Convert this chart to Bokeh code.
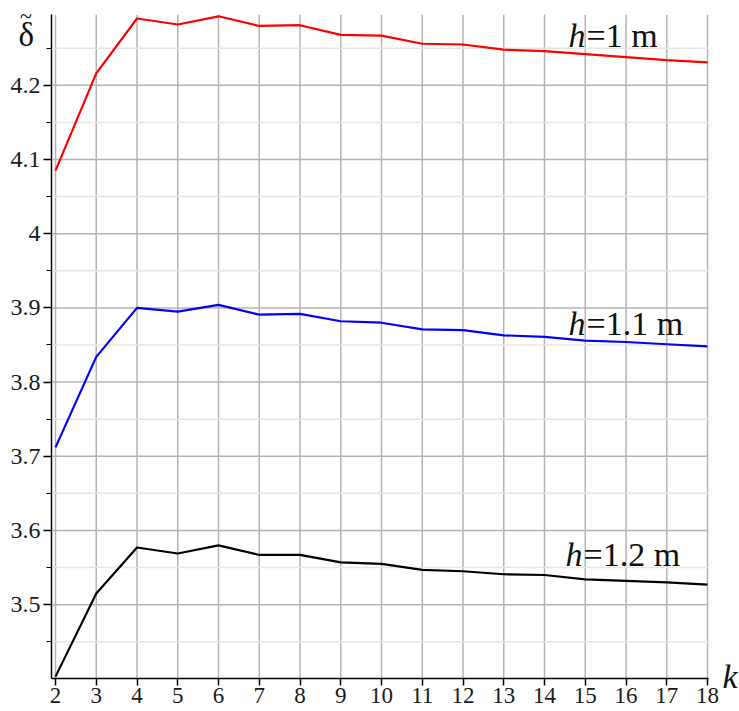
from bokeh.plotting import figure
from bokeh.models import Label, FixedTicker, Range1d, CustomJSTickFormatter, LinearAxis
from bokeh.embed import file_html
from bokeh.resources import INLINE

# ---- data ----
k = list(range(2, 19))
delta_h1 = [4.085, 4.216, 4.290, 4.282, 4.293, 4.280, 4.281, 4.268, 4.267,
            4.256, 4.255, 4.248, 4.246, 4.242, 4.238, 4.234, 4.231]
delta_h11 = [3.712, 3.834, 3.900, 3.895, 3.904, 3.891, 3.892, 3.882, 3.880,
             3.871, 3.870, 3.863, 3.861, 3.856, 3.854, 3.851, 3.848]
delta_h12 = [3.403, 3.515, 3.577, 3.569, 3.580, 3.567, 3.567, 3.557, 3.555,
             3.547, 3.545, 3.541, 3.540, 3.534, 3.532, 3.530, 3.527]
h_values = ["1", "1.1", "1.2"]
y_major = [3.5, 3.6, 3.7, 3.8, 3.9, 4.0, 4.1, 4.2]
y_minor = [3.45, 3.55, 3.65, 3.75, 3.85, 3.95, 4.05, 4.15, 4.25]
x_ticks = k

# axis extents (data units)
X_LO, X_HI = 1.9, 18.02
Y_LO, Y_HI = 3.4, 4.295

# ---- styling ----
FONT = "Liberation Serif"
TXT = "#111111"
LIFT = 12  # px, text baseline correction
series = [
    (delta_h1, "#ff0000", 14.589, 4.2507),
    (delta_h11, "#0000ff", 14.589, 3.8631),
    (delta_h12, "#000000", 14.515, 3.5508),
]

p = figure(width=739, height=711, output_backend="svg", toolbar_location=None,
           x_range=Range1d(0.6503, 18.785), y_range=Range1d(3.356, 4.3143),
           x_axis_type=None, y_axis_type=None, min_border=0)
p.outline_line_color = None
p.background_fill_color = "white"
p.border_fill_color = "white"

# grid lines (drawn from the tick lists, limited to the axes box)
n_x = len(x_ticks)
p.segment(x0=x_ticks, y0=[Y_LO] * n_x, x1=x_ticks, y1=[Y_HI] * n_x,
          line_color="#b4b4b4", line_width=1.5)
p.segment(x0=[X_LO] * len(y_minor), y0=y_minor, x1=[X_HI] * len(y_minor), y1=y_minor,
          line_color="#e6e6e6", line_width=1.5)
p.segment(x0=[X_LO] * len(y_major), y0=y_major, x1=[X_HI] * len(y_major), y1=y_major,
          line_color="#b4b4b4", line_width=1.5)

for (vals, col, lx, ly), hv in zip(series, h_values):
    p.line(k, vals, line_color=col, line_width=2.2)
    p.add_layout(Label(x=lx, y=ly, y_offset=LIFT, text="h", text_font=FONT,
                       text_font_style="italic", text_font_size="34px", text_color=TXT,
                       text_baseline="alphabetic", text_align="left"))
    p.add_layout(Label(x=lx, y=ly, x_offset=18, y_offset=LIFT, text="=" + hv + " m",
                       text_font=FONT, text_font_size="34px", text_color=TXT,
                       text_baseline="alphabetic", text_align="left"))

# axes at fixed positions inside the canvas
xaxis = LinearAxis(fixed_location=Y_LO, bounds=(X_LO, X_HI), ticker=FixedTicker(ticks=x_ticks))
yaxis = LinearAxis(fixed_location=X_LO, bounds=(Y_LO, Y_HI),
                   ticker=FixedTicker(ticks=y_major, minor_ticks=y_minor),
                   formatter=CustomJSTickFormatter(code="return tick.toFixed(1).replace(/\\.0$/, '');"))
for ax in (xaxis, yaxis):
    ax.axis_line_color = "black"
    ax.axis_line_width = 1.5
    ax.major_tick_line_color = "black"
    ax.minor_tick_line_color = "black"
    ax.major_tick_line_width = 1.5
    ax.major_tick_in = 0
    ax.minor_tick_in = 0
    ax.major_label_text_font = FONT
    ax.major_label_text_color = "#1a1a1a"
xaxis.major_label_text_font_size = "23px"
yaxis.major_label_text_font_size = "24px"
xaxis.major_tick_out = 7
xaxis.minor_tick_out = 0
xaxis.major_label_standoff = 2
yaxis.major_tick_out = 8
yaxis.minor_tick_out = 5
yaxis.major_label_standoff = 3
p.add_layout(xaxis, "below")
p.add_layout(yaxis, "left")

# axis titles
p.add_layout(Label(x=1.092, y=4.2517, y_offset=LIFT, text="\u03b4", text_font=FONT,
                   text_font_size="33px", text_color=TXT,
                   text_baseline="alphabetic", text_align="left"))
p.add_layout(Label(x=1.13, y=4.2853, y_offset=7, text="~", text_font=FONT,
                   text_font_size="22px", text_color=TXT,
                   text_baseline="alphabetic", text_align="left"))
p.add_layout(Label(x=18.368, y=3.3864, y_offset=LIFT, text="k", text_font=FONT,
                   text_font_style="italic", text_font_size="34px", text_color=TXT,
                   text_baseline="alphabetic", text_align="left"))

open("out.html", "w").write(file_html(p, INLINE))
